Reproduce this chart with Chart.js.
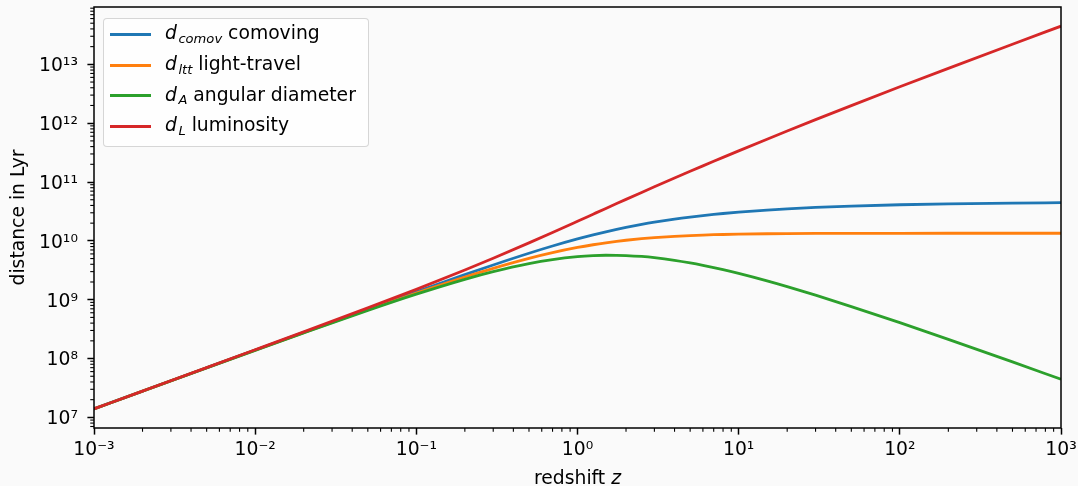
<!DOCTYPE html>
<html><head><meta charset="utf-8">
<script src="https://cdn.jsdelivr.net/npm/chart.js@4.4.1/dist/chart.umd.min.js"></script>
<style>
html,body{margin:0;padding:0;background:#fafafa;}
#wrap{position:relative;width:1078px;height:486px;background:#fafafa;font-family:'DejaVu Sans',sans-serif;}
#c{position:absolute;left:0;top:0;}
#legend{position:absolute;left:103px;top:18px;width:266px;height:129px;box-sizing:border-box;border:1px solid rgba(204,204,204,0.8);border-radius:4px;background:rgba(255,255,255,0.8);}
.hl{position:absolute;left:6px;width:41px;height:3px;}
.tx{position:absolute;left:61px;font-size:18.75px;line-height:22px;height:22px;white-space:nowrap;color:#000;}
.tx i{font-style:italic;}
.tx .sb{font-style:italic;font-size:13.1px;position:relative;top:3.5px;margin-left:1.5px;}
</style>
</head><body>
<div id="wrap"><canvas id="c" width="1078" height="486"></canvas><div id="legend"></div></div>
<script>
// ---- data ----
const redshift = [0.001,0.002,0.005,0.01,0.02,0.05,0.1,0.2,0.3,0.5,0.7,1,1.25,1.5,1.75,2,2.5,3,4,5,6,7,8,10,15,20,30,50,100,200,500,1000];
const dComoving = [1.3965e7,2.7924e7,6.976e7,1.3937e8,2.7812e8,6.905e8,1.3648e9,2.6638e9,3.8955e9,6.1599e9,8.1727e9,1.07749e10,1.26229e10,1.4232e10,1.56442e10,1.68929e10,1.90049e10,2.07271e10,2.33838e10,2.53575e10,2.68954e10,2.81371e10,2.91667e10,3.07869e10,3.34137e10,3.50345e10,3.70036e10,3.90224e10,4.10897e10,4.25661e10,4.38861e10,4.45523e10];
const dLightTravel = [1.3958e7,2.7894e7,6.9589e7,1.38674e8,2.75351e8,6.73816e8,1.30126e9,2.43197e9,3.41825e9,5.04063e9,6.30152e9,7.71536e9,8.58711e9,9.26595e9,9.80512e9,1.02401e10,1.08932e10,1.13542e10,1.19506e10,1.23118e10,1.25497e10,1.27158e10,1.28373e10,1.30007e10,1.32009e10,1.32899e10,1.33681e10,1.34199e10,1.34498e10,1.34605e10,1.34650e10,1.34660e10];
const dAngular = [1.3951e7,2.7868e7,6.9413e7,1.3799e8,2.7267e8,6.5762e8,1.24073e9,2.21983e9,2.99654e9,4.1066e9,4.80747e9,5.38745e9,5.61018e9,5.6928e9,5.6888e9,5.63097e9,5.42996e9,5.18178e9,4.67676e9,4.22625e9,3.8422e9,3.51714e9,3.24074e9,2.79881e9,2.08836e9,1.66831e9,1.19366e9,7.65145e8,4.06829e8,2.11772e8,8.7597e7,4.45078e7];
const dLuminosity = [1.3979e7,2.798e7,7.0109e7,1.4076e8,2.8368e8,7.2503e8,1.5013e9,3.1966e9,5.0642e9,9.2399e9,1.38936e10,2.15498e10,2.84015e10,3.558e10,4.30216e10,5.06787e10,6.6517e10,8.29084e10,1.16919e11,1.52145e11,1.88268e11,2.25097e11,2.625e11,3.38656e11,5.34619e11,7.35725e11,1.14711e12,1.99014e12,4.15006e12,8.55579e12,2.19869e13,4.45969e13];

const legendSymbols = ['comov','ltt','A','L'];
const legendNames = ['comoving','light-travel','angular diameter','luminosity'];
const seriesColors = ['#1f77b4','#ff7f0e','#2ca02c','#d62728'];

const xMajorTicks = [1e-3,1e-2,1e-1,1e0,1e1,1e2,1e3];
const xTickLabels = ['10⁻³','10⁻²','10⁻¹','10⁰','10¹','10²','10³'];
const yMajorTicks = [1e7,1e8,1e9,1e10,1e11,1e12,1e13];
const yTickLabels = ['10⁷','10⁸','10⁹','10¹⁰','10¹¹','10¹²','10¹³'];
const xRange = [1e-3, 1e3];
const yRange = [6.6e6, 9.43e13];
const xTitleMain = 'redshift ';
const xTitleVar = 'z';
const yTitle = 'distance in Lyr';

// ---- helpers ----
function isMajor(v){ const l=Math.log10(v); return Math.abs(l-Math.round(l))<1e-6; }
function allTicks(min,max){
  const out=[];
  for(let e=Math.floor(Math.log10(min))-1;e<=Math.ceil(Math.log10(max));e++){
    for(let k=1;k<=9;k++){ const v=Number((k+'e'+e)); if(v>=min*(1-1e-9)&&v<=max*(1+1e-9)) out.push({value:v,major:k===1}); }
  }
  return out;
}
function labelFor(v,majors,labels){
  for(let i=0;i<majors.length;i++){ if(Math.abs(Math.log10(v)-Math.log10(majors[i]))<1e-6) return labels[i]; }
  return '';
}

const FONT = 'DejaVu Sans';
Chart.defaults.font.family = FONT;
Chart.defaults.font.size = 18.75;
Chart.defaults.color = '#000';

const seriesData = [dComoving, dLightTravel, dAngular, dLuminosity];
const datasets = seriesData.map((arr,si)=>({
  label: legendNames[si],
  data: redshift.map((z,i)=>({x:z,y:arr[i]})),
  borderColor: seriesColors[si],
  backgroundColor: seriesColors[si],
  borderWidth: 2.8,
  pointRadius: 0,
  fill: false,
  cubicInterpolationMode: 'monotone',
  order: 3-si,
  clip: 0
}));

const minorTickPlugin = {
  id:'minorTicks',
  afterDatasetsDraw(chart){
    const ctx=chart.ctx, a=chart.chartArea;
    ctx.save();
    ctx.strokeStyle='#000';
    ctx.lineWidth=1.1;
    const xs=chart.scales.x, ys=chart.scales.y;
    xs.ticks.forEach(t=>{ if(isMajor(t.value)) return; const p=xs.getPixelForValue(t.value); ctx.beginPath(); ctx.moveTo(p,a.bottom); ctx.lineTo(p,a.bottom+3.75); ctx.stroke(); });
    ys.ticks.forEach(t=>{ if(isMajor(t.value)) return; const p=ys.getPixelForValue(t.value); ctx.beginPath(); ctx.moveTo(a.left,p); ctx.lineTo(a.left-3.75,p); ctx.stroke(); });
    ctx.lineWidth=1.5;
    ctx.strokeRect(a.left,a.top,a.right-a.left,a.bottom-a.top);
    ctx.restore();
  }
};
const xTitlePlugin = {
  id:'xTitle',
  afterDraw(chart){
    const ctx=chart.ctx, a=chart.chartArea;
    ctx.save(); ctx.fillStyle='#000'; ctx.textBaseline='alphabetic';
    const f1='18.75px "'+FONT+'"', f2='italic 18.75px "'+FONT+'"';
    ctx.font=f1; const w1=ctx.measureText(xTitleMain).width;
    ctx.font=f2; const w2=ctx.measureText(xTitleVar).width;
    const x0=(a.left+a.right)/2-(w1+w2)/2;
    ctx.font=f1; ctx.fillText(xTitleMain,x0,484);
    ctx.font=f2; ctx.fillText(xTitleVar,x0+w1,484);
    ctx.restore();
  }
};
const htmlLegendPlugin = {
  id:'htmlLegend',
  afterUpdate(chart){
    const box=document.getElementById('legend');
    box.innerHTML='';
    chart.data.datasets.forEach((ds,i)=>{
      const cy=15.5+i*30.7;
      const h=document.createElement('div'); h.className='hl';
      h.style.top=Math.round(cy-1.5)+'px'; h.style.background=ds.borderColor;
      const t=document.createElement('div'); t.className='tx';
      t.style.top=(cy-12.2)+'px';
      t.innerHTML='<i>d</i><span class="sb">'+legendSymbols[i]+'</span> '+ds.label;
      box.appendChild(h); box.appendChild(t);
    });
  }
};

new Chart(document.getElementById('c'), {
  type:'line',
  data:{datasets},
  options:{
    responsive:false,
    devicePixelRatio:1,
    animation:false,
    events:[],
    layout:{padding:{top:7,right:17,left:0,bottom:0}},
    plugins:{legend:{display:false},tooltip:{enabled:false}},
    scales:{
      x:{
        type:'logarithmic', position:'bottom',
        min:xRange[0], max:xRange[1],
        afterBuildTicks(s){ s.ticks=allTicks(xRange[0],xRange[1]); },
        afterFit(s){ s.height=58; s.paddingLeft=0; s.paddingRight=0; },
        border:{display:false},
        grid:{display:true,drawOnChartArea:false,drawTicks:true,tickLength:6.6,
          tickWidth:1.5,
          tickColor:(c)=> (c.tick && isMajor(c.tick.value)) ? '#000' : 'rgba(0,0,0,0)'},
        ticks:{autoSkip:false,maxRotation:0,minRotation:0,padding:4.5,
          font:{size:18.75},color:'#000',
          callback:(v)=>labelFor(v,xMajorTicks,xTickLabels)},
        title:{display:false}
      },
      y:{
        type:'logarithmic', position:'left',
        min:yRange[0], max:yRange[1],
        afterBuildTicks(s){ s.ticks=allTicks(yRange[0],yRange[1]); },
        afterFit(s){ s.width=94; s.paddingTop=0; s.paddingBottom=0; },
        border:{display:false},
        grid:{display:true,drawOnChartArea:false,drawTicks:true,tickLength:6.6,
          tickWidth:1.5,
          tickColor:(c)=> (c.tick && isMajor(c.tick.value)) ? '#000' : 'rgba(0,0,0,0)'},
        ticks:{autoSkip:false,padding:9.5,labelOffset:2,
          font:{size:18.75},color:'#000',
          callback:(v)=>labelFor(v,yMajorTicks,yTickLabels)},
        title:{display:true,text:yTitle,font:{size:18.75},color:'#000',padding:{top:8,bottom:0}}
      }
    }
  },
  plugins:[minorTickPlugin,xTitlePlugin,htmlLegendPlugin]
});
</script>
</body></html>
